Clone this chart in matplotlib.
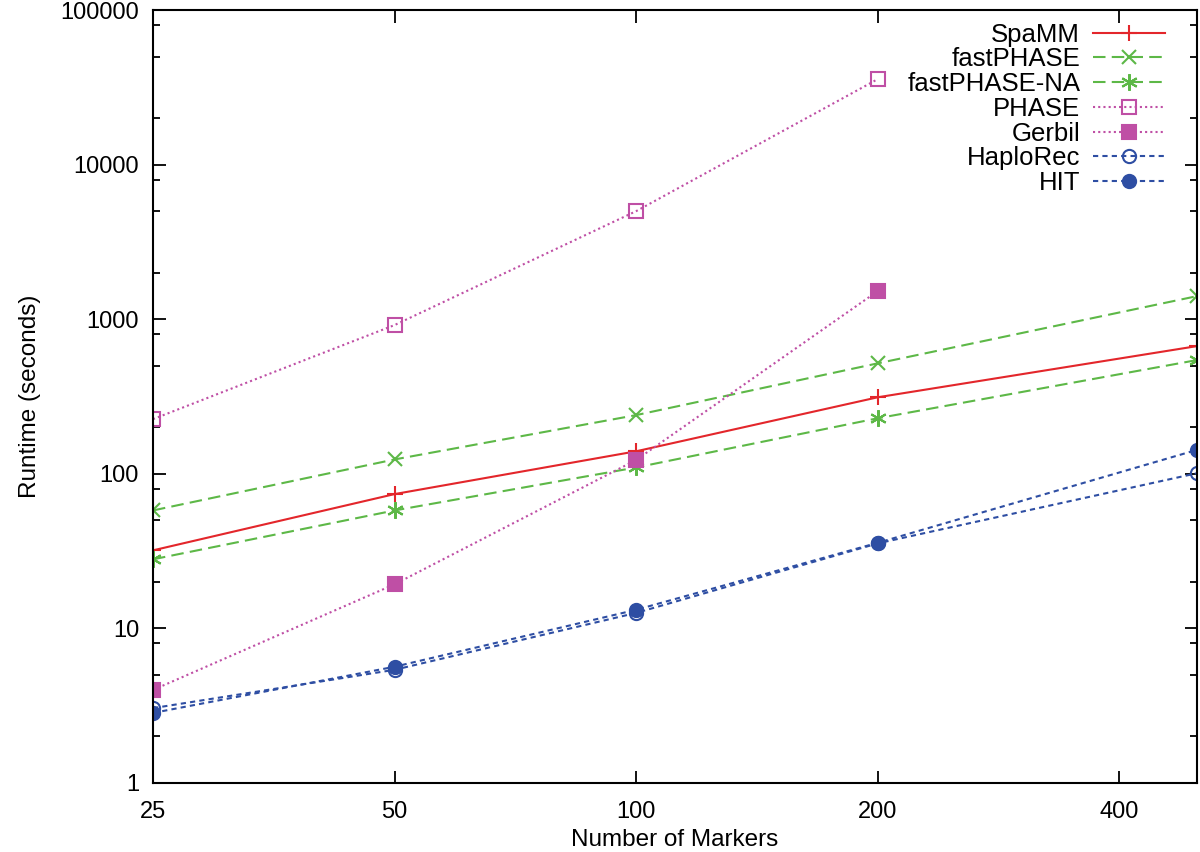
import numpy as np
import matplotlib
matplotlib.use("Agg")
import matplotlib.pyplot as plt
import matplotlib.ticker as mticker

plt.rcParams['font.family'] = ['Liberation Sans', 'DejaVu Sans']

# %% data
markers = [25, 50, 100, 200, 500]
spamm = [32, 74, 140, 313, 671]
fastphase = [58, 124, 240, 519, 1413]
fastphase_na = [28, 58, 110, 229, 545]
phase_x = [25, 50, 100, 200]
phase = [226, 918, 5010, 35800]
gerbil_x = [25, 50, 100, 200]
gerbil = [4.0, 19.3, 123, 1522]
haplorec = [3.05, 5.4, 12.6, 35.5, 101]
hit = [2.84, 5.65, 13.2, 35.8, 143]

x_ticks = [25, 50, 100, 200, 400]

red = "#e3262b"
green = "#5db847"
magenta = "#bf4fa5"
blue = "#2e4ea3"

# %%
fig = plt.figure(figsize=(12, 8.52), dpi=100)
ax = fig.add_axes([0.1275, 0.081, 0.87, 0.907])

lw = 1.5
ax.plot(markers, spamm, color=red, ls='-', lw=lw, marker='+', ms=12, mew=1.5,
        label='SpaMM')
ax.plot(markers, fastphase, color=green, ls=(0, (6, 3)), lw=lw, marker='x',
        ms=10, mew=1.5, label='fastPHASE')
ax.plot(markers, fastphase_na, color=green, ls=(0, (6, 3)), lw=lw,
        marker=(6, 2, 0), ms=12, mew=1.5, label='fastPHASE-NA')
ax.plot(phase_x, phase, color=magenta, ls=(0, (1, 1.5)), lw=lw, marker='s',
        ms=9.5, mew=1.5, mfc='none', label='PHASE')
ax.plot(gerbil_x, gerbil, color=magenta, ls=(0, (1, 1.5)), lw=lw, marker='s',
        ms=9.5, mew=1.5, label='Gerbil')
ax.plot(markers, haplorec, color=blue, ls=(0, (2.5, 2)), lw=lw, marker='o',
        ms=9.5, mew=1.5, mfc='none', label='HaploRec')
ax.plot(markers, hit, color=blue, ls=(0, (2.5, 2)), lw=lw, marker='o',
        ms=9.5, mew=1.5, label='HIT')

ax.set_xscale('log')
ax.set_yscale('log')
ax.set_xlim(25, 500)
ax.set_ylim(1, 100000)

ax.xaxis.set_major_locator(mticker.FixedLocator(x_ticks))
ax.xaxis.set_major_formatter(mticker.FixedFormatter([str(t) for t in x_ticks]))
ax.xaxis.set_minor_locator(mticker.NullLocator())
ax.yaxis.set_major_locator(mticker.LogLocator(base=10, numticks=10))
ax.yaxis.set_major_formatter(mticker.FuncFormatter(lambda v, p: "%d" % v))
ax.yaxis.set_minor_locator(mticker.LogLocator(base=10, subs=(2, 5, 8),
                                              numticks=10))
ax.yaxis.set_minor_formatter(mticker.NullFormatter())

ax.tick_params(which='both', direction='in', top=True, right=True,
               labelsize=17, width=1.3)
ax.tick_params(axis='x', pad=13)
ax.tick_params(axis='y', pad=10)
ax.tick_params(which='major', length=9)
ax.tick_params(which='minor', length=5)
for s in ax.spines.values():
    s.set_linewidth(1.5)

ax.set_xlabel("Number of Markers", fontsize=17.5, labelpad=4)
ax.set_ylabel("Runtime (seconds)", fontsize=17.5, labelpad=14)

leg = ax.legend(loc='upper right', frameon=False, markerfirst=False,
                fontsize=18.5, handlelength=2.8, handletextpad=0.5,
                labelspacing=0.03, borderpad=0, borderaxespad=0,
                bbox_to_anchor=(0.9693, 0.984))
for t in leg.get_texts():
    t.set_ha('right')

fig.savefig("out.png", dpi=100)
